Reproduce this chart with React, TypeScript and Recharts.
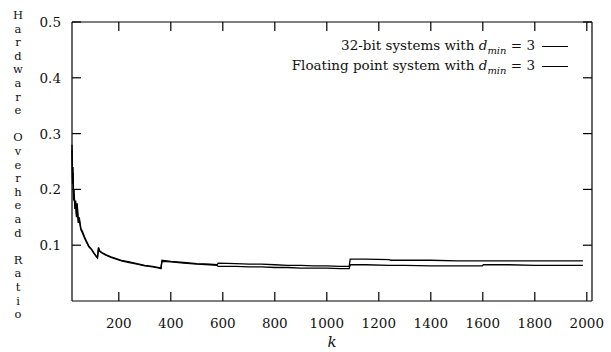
import React from "react";
import { LineChart, Line, XAxis, YAxis, Legend } from "recharts";

// k values (x) shared by both series
const kValues = [
  20, 22, 24, 26, 28, 31, 34, 37, 40, 44, 48, 54, 60, 68, 76, 85, 95, 105, 114, 118,
  122, 126, 135, 150, 170, 190, 210, 240, 270, 300, 330, 355, 362, 366, 400, 450, 500,
  550, 578, 582, 650, 700, 750, 800, 850, 900, 950, 1000, 1050, 1086, 1090, 1150, 1240,
  1246, 1300, 1400, 1500, 1598, 1602, 1700, 1800, 1900, 1985,
];

const fixed32 = [
  0.28, 0.21, 0.24, 0.19, 0.2, 0.165, 0.18, 0.15, 0.175, 0.145, 0.15, 0.13, 0.125, 0.115,
  0.107, 0.098, 0.093, 0.086, 0.08, 0.078, 0.096, 0.09, 0.087, 0.083, 0.079, 0.076, 0.073,
  0.07, 0.067, 0.064, 0.062, 0.06, 0.059, 0.073, 0.071, 0.069, 0.067, 0.066, 0.065, 0.068,
  0.067, 0.066, 0.066, 0.065, 0.064, 0.064, 0.063, 0.063, 0.062, 0.062, 0.075, 0.075,
  0.074, 0.073, 0.073, 0.073, 0.072, 0.072, 0.072, 0.072, 0.072, 0.072, 0.072,
];

const floating = [
  0.27, 0.22, 0.23, 0.18, 0.19, 0.17, 0.175, 0.155, 0.17, 0.14, 0.145, 0.128, 0.122, 0.113,
  0.105, 0.097, 0.092, 0.085, 0.079, 0.077, 0.095, 0.089, 0.086, 0.082, 0.078, 0.075, 0.072,
  0.069, 0.066, 0.063, 0.061, 0.059, 0.058, 0.071, 0.07, 0.068, 0.066, 0.065, 0.064, 0.062,
  0.062, 0.061, 0.061, 0.06, 0.06, 0.059, 0.059, 0.059, 0.058, 0.058, 0.065, 0.065, 0.064,
  0.064, 0.064, 0.063, 0.063, 0.063, 0.065, 0.065, 0.064, 0.064, 0.064,
];

const xTicks = [200, 400, 600, 800, 1000, 1200, 1400, 1600, 1800, 2000];
const yTicks = [0.1, 0.2, 0.3, 0.4, 0.5];
const seriesNames = ["32-bit systems with", "Floating point system with"];
const yTitle = "Hardware Overhead Ratio";

const data = kValues.map((k, i) => ({ k, a: fixed32[i], b: floating[i] }));

const FONT = "'DejaVu Serif', serif";
const TICK = 9;

// gnuplot-style ticks: pointing into the plot, on all four borders
const BottomTick = ({ x, y, payload }: any) => (
  <g>
    <line x1={x} y1={y} x2={x} y2={y - TICK} stroke="#000" strokeWidth={1.2} />
    <text x={x} y={y + 27} textAnchor="middle" fontFamily={FONT} fontSize={13.5} fill="#111">
      {payload.value}
    </text>
  </g>
);

const TopTick = ({ x, y }: any) => (
  <line x1={x} y1={y} x2={x} y2={y + TICK} stroke="#000" strokeWidth={1.2} />
);

const LeftTick = ({ x, y, payload }: any) => (
  <g>
    <line x1={x} y1={y} x2={x + TICK} y2={y} stroke="#000" strokeWidth={1.2} />
    <text x={x - 11} y={y + 5} textAnchor="end" fontFamily={FONT} fontSize={13.5} fill="#111">
      {payload.value.toFixed(1)}
    </text>
  </g>
);

const RightTick = ({ x, y }: any) => (
  <line x1={x} y1={y} x2={x - TICK} y2={y} stroke="#000" strokeWidth={1.2} />
);

// letters stacked one under another, as in the original
const YTitle = () => (
  <g>
    {yTitle.split("").map((c, i) =>
      c === " " ? null : (
        <text
          key={i}
          x={18}
          y={19 + i * 13.6}
          textAnchor="middle"
          fontFamily={FONT}
          fontSize={11.5}
          fill="#111"
        >
          {c}
        </text>
      )
    )}
  </g>
);

const XTitle = ({ viewBox }: any) => (
  <text
    x={viewBox.x + viewBox.width / 2}
    y={viewBox.y + 46}
    textAnchor="middle"
    fontFamily={FONT}
    fontStyle="italic"
    fontSize={15}
    fill="#111"
  >
    k
  </text>
);

const LegendBox = ({ payload }: any) => (
  <div style={{ fontFamily: FONT, fontSize: 13.5, color: "#111" }}>
    {(payload || []).map((p: any) => (
      <div
        key={p.value}
        style={{ display: "flex", justifyContent: "flex-end", alignItems: "center", height: 20 }}
      >
        <span>
          {p.value} <i>d</i>
          <sub style={{ fontSize: 10 }}>
            <i>min</i>
          </sub>{" "}
          = 3
        </span>
        <div style={{ width: 26, borderTop: "1.5px solid #000", marginLeft: 7 }} />
      </div>
    ))}
  </div>
);

export default function App() {
  return (
    <div style={{ position: "absolute", left: 0, top: 0, background: "#fff" }}>
      <LineChart width={611} height={352} data={data} margin={{ top: 2, right: 0, bottom: 0, left: 0 }}>
        <XAxis
          xAxisId="b"
          dataKey="k"
          type="number"
          domain={[20, 2020]}
          ticks={xTicks}
          height={51}
          tickSize={0}
          tickMargin={0}
          tick={<BottomTick />}
          axisLine={{ stroke: "#000", strokeWidth: 1.2 }}
          label={<XTitle />}
        />
        <XAxis
          xAxisId="t"
          orientation="top"
          dataKey="k"
          type="number"
          domain={[20, 2020]}
          ticks={xTicks}
          height={20}
          tickSize={0}
          tickMargin={0}
          tick={<TopTick />}
          axisLine={{ stroke: "#000", strokeWidth: 1.2 }}
        />
        <YAxis
          yAxisId="l"
          type="number"
          domain={[0, 0.5]}
          ticks={yTicks}
          width={72}
          tickSize={0}
          tickMargin={0}
          tick={<LeftTick />}
          axisLine={{ stroke: "#000", strokeWidth: 1.2 }}
          label={<YTitle />}
        />
        <YAxis
          yAxisId="r"
          orientation="right"
          type="number"
          domain={[0, 0.5]}
          ticks={yTicks}
          width={19}
          tickSize={0}
          tickMargin={0}
          tick={<RightTick />}
          axisLine={{ stroke: "#000", strokeWidth: 1.2 }}
        />
        <Legend
          layout="vertical"
          align="center"
          verticalAlign="middle"
          content={<LegendBox />}
          wrapperStyle={{ left: 168, top: 36, width: 400 }}
        />
        {/* the top/right axes share the same domains, so this series sits on the same scale */}
        <Line
          xAxisId="t"
          yAxisId="r"
          dataKey="a"
          name={seriesNames[0]}
          type="linear"
          stroke="#000"
          strokeWidth={1.3}
          dot={false}
          isAnimationActive={false}
        />
        <Line
          xAxisId="b"
          yAxisId="l"
          dataKey="b"
          name={seriesNames[1]}
          type="linear"
          stroke="#000"
          strokeWidth={1.3}
          dot={false}
          isAnimationActive={false}
        />
      </LineChart>
    </div>
  );
}
